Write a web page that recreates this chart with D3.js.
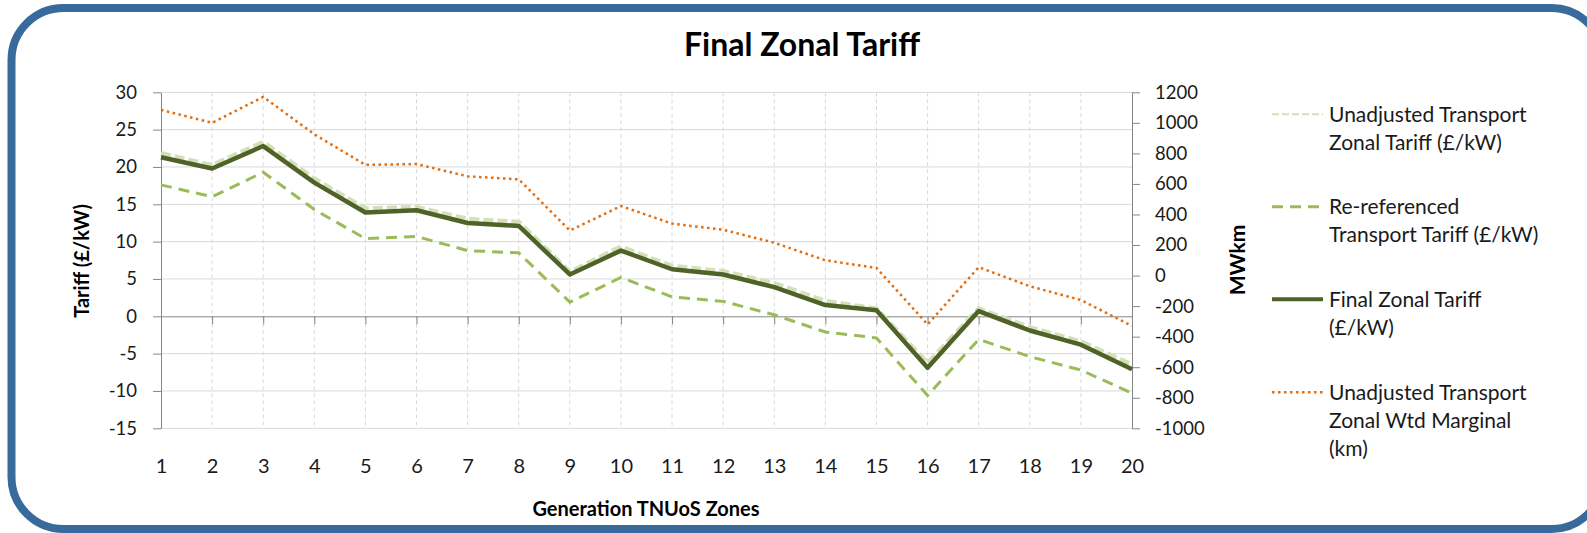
<!DOCTYPE html>
<html>
<head>
<meta charset="utf-8">
<script src="https://cdn.jsdelivr.net/npm/d3@7"></script>
<style>
  body { margin: 0; background: #fff; }
  svg { display: block; }
</style>
</head>
<body>
<svg id="chart" width="1587" height="533"></svg>
<script>
/**
 * Chart data.
 */
var zones = [1, 2, 3, 4, 5, 6, 7, 8, 9, 10, 11, 12, 13, 14, 15, 16, 17, 18, 19, 20];
var unadjusted = [21.8, 20.2, 23.3, 18.4, 14.4, 14.6, 13.0, 12.6, 5.9, 9.3, 6.7, 6.0, 4.4, 2.0, 1.0, -6.3, 1.0, -1.5, -3.4, -6.5];
var rereferenced = [17.6, 16.0, 19.3, 14.3, 10.4, 10.7, 8.8, 8.5, 1.9, 5.2, 2.6, 2.0, 0.2, -2.1, -2.9, -10.6, -3.1, -5.4, -7.2, -10.3];
var finalTariff = [21.3, 19.8, 22.8, 17.9, 13.9, 14.2, 12.5, 12.1, 5.6, 8.8, 6.3, 5.6, 3.9, 1.5, 0.8, -6.9, 0.7, -1.9, -3.8, -7.1];
var marginalKm = [1085, 1000, 1170, 925, 725, 730, 650, 630, 295, 455, 340, 300, 215, 100, 50, -320, 55, -70, -160, -330];
var leftTicks = [-15, -10, -5, 0, 5, 10, 15, 20, 25, 30];
var rightTicks = [-1000, -800, -600, -400, -200, 0, 200, 400, 600, 800, 1000, 1200];

var legendItems = [
    { lines: ["Unadjusted Transport", "Zonal Tariff (£/kW)"], stroke: "#d3e0b8", width: 2, dash: "7,3" },
    { lines: ["Re-referenced", "Transport Tariff (£/kW)"], stroke: "#9bbb59", width: 3, dash: "11,7" },
    { lines: ["Final Zonal Tariff", "(£/kW)"], stroke: "#4f6228", width: 4, dash: null },
    { lines: ["Unadjusted Transport", "Zonal Wtd Marginal", "(km)"], stroke: "#e46c0a", width: 2.5, dash: "2.5,3.5" }
];

var FONT = "Lato, 'Open Sans', sans-serif";
var svg = d3.select("#chart");

/**
 * Rounded blue frame around the whole chart.
 */
svg.append("rect")
    .attr("x", 11.5).attr("y", 8)
    .attr("width", 1592).attr("height", 521)
    .attr("rx", 52).attr("ry", 52)
    .attr("fill", "#fff")
    .attr("stroke", "#386a9b").attr("stroke-width", 8);

/**
 * Scales.
 */
var plotLeft = 161, plotRight = 1132, plotTop = 92.3, plotBottom = 428.3;
var x = d3.scalePoint().domain(zones).range([plotLeft, plotRight]);
var yL = d3.scaleLinear().domain([-15, 30]).range([plotBottom, plotTop]);
var yR = d3.scaleLinear().domain([-1000, 1200]).range([plotBottom, plotTop]);
// plain hyphen minus and no thousands separator, as in the picture
var plain = function (d) { return String(d); };

/**
 * Grid lines.
 */
var grid = svg.append("g");
grid.selectAll("line.h").data(leftTicks.filter(function (d) { return d !== 0; }))
    .enter().append("line")
    .attr("x1", plotLeft).attr("x2", plotRight)
    .attr("y1", function (d) { return yL(d); }).attr("y2", function (d) { return yL(d); })
    .attr("stroke", "#d9d9d9").attr("stroke-width", 1);
grid.selectAll("line.v").data(zones.slice(1, -1))
    .enter().append("line")
    .attr("x1", function (d) { return x(d); }).attr("x2", function (d) { return x(d); })
    .attr("y1", plotTop).attr("y2", plotBottom)
    .attr("stroke", "#d9d9d9").attr("stroke-width", 1)
    .attr("stroke-dasharray", "4,3");

/**
 * Axes.
 */
function styleAxis(g, size) {
    g.selectAll("path, line").attr("stroke", "#868686");
    g.selectAll("text").attr("fill", "#1a1a1a")
        .style("font-family", FONT).style("font-size", size + "px");
}

svg.append("g")
    .attr("transform", "translate(" + plotLeft + ",0)")
    .call(d3.axisLeft(yL).tickValues(leftTicks).tickFormat(plain)
          .tickSize(8).tickSizeOuter(0).tickPadding(16))
    .call(styleAxis, 18.5);

svg.append("g")
    .attr("transform", "translate(" + plotRight + ",0)")
    .call(d3.axisRight(yR).tickValues(rightTicks).tickFormat(plain)
          .tickSize(8).tickSizeOuter(0).tickPadding(15))
    .call(styleAxis, 18.5);

var xAxis = svg.append("g")
    .attr("transform", "translate(0," + yL(0) + ")")
    .call(d3.axisBottom(x).tickFormat(plain).tickSize(8).tickSizeOuter(0))
    .call(styleAxis, 20);
xAxis.selectAll("text").attr("y", 473 - yL(0)).attr("dy", null);

/**
 * Series lines.
 */
var lineL = d3.line().x(function (d, i) { return x(zones[i]); }).y(function (d) { return yL(d); });
var lineR = d3.line().x(function (d, i) { return x(zones[i]); }).y(function (d) { return yR(d); });

svg.append("path").attr("d", lineL(unadjusted))
    .attr("fill", "none").attr("stroke", "#d3e0b8").attr("stroke-width", 5)
    .attr("stroke-dasharray", "10,4");
svg.append("path").attr("d", lineL(rereferenced))
    .attr("fill", "none").attr("stroke", "#9bbb59").attr("stroke-width", 3)
    .attr("stroke-dasharray", "11,7");
svg.append("path").attr("d", lineL(finalTariff))
    .attr("fill", "none").attr("stroke", "#4f6228").attr("stroke-width", 4.5)
    .attr("stroke-linejoin", "round");
svg.append("path").attr("d", lineR(marginalKm))
    .attr("fill", "none").attr("stroke", "#e46c0a").attr("stroke-width", 2.5)
    .attr("stroke-dasharray", "2.5,3.5");

/**
 * Titles.
 */
svg.append("text")
    .attr("x", 802).attr("y", 56).attr("text-anchor", "middle")
    .style("font-family", FONT).style("font-size", "32px").style("font-weight", "bold")
    .text("Final Zonal Tariff");

svg.append("text")
    .attr("x", 646).attr("y", 516).attr("text-anchor", "middle")
    .style("font-family", FONT).style("font-size", "20px").style("font-weight", "bold")
    .text("Generation TNUoS Zones");

svg.append("text")
    .attr("transform", "translate(89,261) rotate(-90)").attr("text-anchor", "middle")
    .style("font-family", FONT).style("font-size", "20px").style("font-weight", "bold")
    .text("Tariff (£/kW)");

svg.append("text")
    .attr("transform", "translate(1245,260) rotate(-90)").attr("text-anchor", "middle")
    .style("font-family", FONT).style("font-size", "21px").style("font-weight", "bold")
    .text("MWkm");

/**
 * Legend.
 */
var legendY = [114.3, 206.7, 299.3, 392.3];
var lineGap = 28.4;
legendItems.forEach(function (item, i) {
    var g = svg.append("g").attr("transform", "translate(0," + legendY[i] + ")");
    g.append("line")
        .attr("x1", 1272).attr("x2", 1323).attr("y1", 0).attr("y2", 0)
        .attr("stroke", item.stroke).attr("stroke-width", item.width)
        .attr("stroke-dasharray", item.dash);
    item.lines.forEach(function (t, j) {
        g.append("text")
            .attr("x", 1329).attr("y", j * lineGap).attr("dy", "0.35em")
            .attr("fill", "#1a1a1a")
            .style("font-family", FONT).style("font-size", "21px")
            .text(t);
    });
});
</script>
</body>
</html>
